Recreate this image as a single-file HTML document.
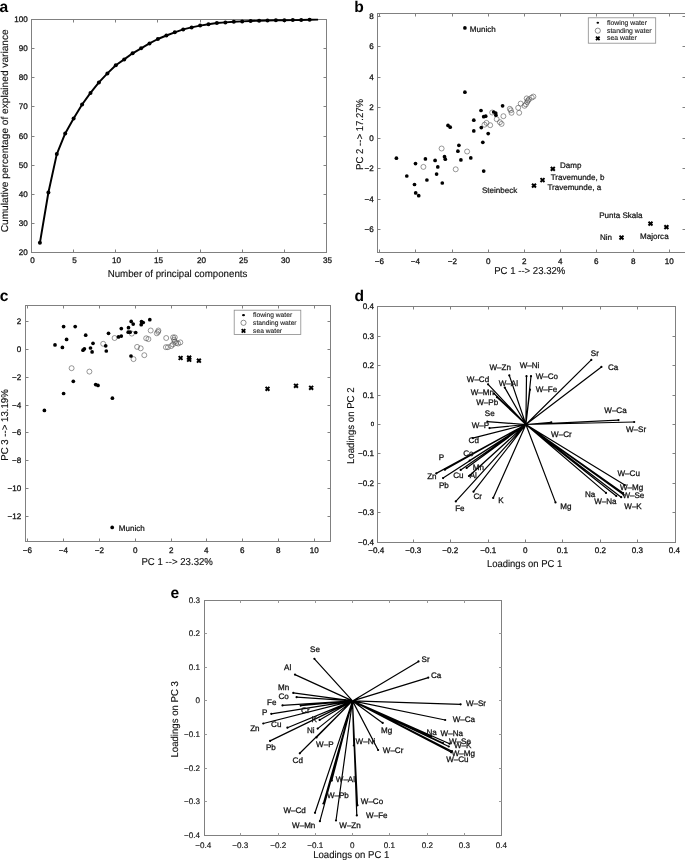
<!DOCTYPE html>
<html><head><meta charset="utf-8"><title>PCA figure</title>
<style>
html,body{margin:0;padding:0;background:#fff;}
body{width:685px;height:860px;overflow:hidden;}
svg{display:block;will-change:transform;font-family:"Liberation Sans",sans-serif;text-rendering:geometricPrecision;}
</style></head><body>
<svg width="685" height="860" viewBox="0 0 685 860">
<rect x="0" y="0" width="685" height="860" fill="#fff"/>
<g>
<rect x="31.50" y="19.50" width="295.00" height="233.00" fill="none" stroke="#808080" stroke-width="1"/>
<text x="32.50" y="262.72" font-size="8.1" text-anchor="middle" font-weight="normal" fill="#111" stroke="#111" stroke-width="0.28">0</text>
<text x="74.50" y="262.72" font-size="8.1" text-anchor="middle" font-weight="normal" fill="#111" stroke="#111" stroke-width="0.28">5</text>
<text x="116.50" y="262.72" font-size="8.1" text-anchor="middle" font-weight="normal" fill="#111" stroke="#111" stroke-width="0.28">10</text>
<text x="158.50" y="262.72" font-size="8.1" text-anchor="middle" font-weight="normal" fill="#111" stroke="#111" stroke-width="0.28">15</text>
<text x="201.50" y="262.72" font-size="8.1" text-anchor="middle" font-weight="normal" fill="#111" stroke="#111" stroke-width="0.28">20</text>
<text x="243.50" y="262.72" font-size="8.1" text-anchor="middle" font-weight="normal" fill="#111" stroke="#111" stroke-width="0.28">25</text>
<text x="285.50" y="262.72" font-size="8.1" text-anchor="middle" font-weight="normal" fill="#111" stroke="#111" stroke-width="0.28">30</text>
<text x="327.50" y="262.72" font-size="8.1" text-anchor="middle" font-weight="normal" fill="#111" stroke="#111" stroke-width="0.28">35</text>
<text x="27.80" y="254.92" font-size="8.1" text-anchor="end" font-weight="normal" fill="#111" stroke="#111" stroke-width="0.28">20</text>
<text x="27.80" y="225.92" font-size="8.1" text-anchor="end" font-weight="normal" fill="#111" stroke="#111" stroke-width="0.28">30</text>
<text x="27.80" y="196.92" font-size="8.1" text-anchor="end" font-weight="normal" fill="#111" stroke="#111" stroke-width="0.28">40</text>
<text x="27.80" y="167.92" font-size="8.1" text-anchor="end" font-weight="normal" fill="#111" stroke="#111" stroke-width="0.28">50</text>
<text x="27.80" y="138.92" font-size="8.1" text-anchor="end" font-weight="normal" fill="#111" stroke="#111" stroke-width="0.28">60</text>
<text x="27.80" y="108.92" font-size="8.1" text-anchor="end" font-weight="normal" fill="#111" stroke="#111" stroke-width="0.28">70</text>
<text x="27.80" y="79.92" font-size="8.1" text-anchor="end" font-weight="normal" fill="#111" stroke="#111" stroke-width="0.28">80</text>
<text x="27.80" y="50.92" font-size="8.1" text-anchor="end" font-weight="normal" fill="#111" stroke="#111" stroke-width="0.28">90</text>
<text x="27.80" y="21.92" font-size="8.1" text-anchor="end" font-weight="normal" fill="#111" stroke="#111" stroke-width="0.28">100</text>
<path d="M73.50 252.50v-3.0M73.50 19.50v3.0M115.50 252.50v-3.0M115.50 19.50v3.0M157.50 252.50v-3.0M157.50 19.50v3.0M200.50 252.50v-3.0M200.50 19.50v3.0M242.50 252.50v-3.0M242.50 19.50v3.0M284.50 252.50v-3.0M284.50 19.50v3.0M31.50 223.50h3.0M326.50 223.50h-3.0M31.50 194.50h3.0M326.50 194.50h-3.0M31.50 165.50h3.0M326.50 165.50h-3.0M31.50 136.50h3.0M326.50 136.50h-3.0M31.50 106.50h3.0M326.50 106.50h-3.0M31.50 77.50h3.0M326.50 77.50h-3.0M31.50 48.50h3.0M326.50 48.50h-3.0" stroke="#808080" stroke-width="1" fill="none"/>
<text x="177.50" y="277.10" font-size="10" text-anchor="middle" font-weight="normal" fill="#111" textLength="139.7" lengthAdjust="spacingAndGlyphs" stroke="#111" stroke-width="0.14">Number of principal components</text>
<text x="4.70" y="133.90" font-size="10" text-anchor="middle" font-weight="normal" fill="#111" transform="rotate(-90 4.70 130.80)" textLength="203" lengthAdjust="spacingAndGlyphs" stroke="#111" stroke-width="0.14">Cumulative percentage of explained variance</text>
<polyline points="39.9,242.8 48.4,192.5 56.8,154.1 65.2,133.4 73.6,118.5 82.1,104.5 90.5,92.9 98.9,82.4 107.4,73.4 115.8,65.2 124.2,59.4 132.6,53.3 141.1,48.3 149.5,43.4 157.9,39.0 166.4,35.5 174.8,32.3 183.2,29.4 191.6,27.4 200.1,25.6 208.5,24.2 216.9,23.0 225.4,22.4 233.8,21.8 242.2,21.4 250.6,21.0 259.1,20.7 267.5,20.5 275.9,20.3 284.4,20.2 292.8,20.1 301.2,20.0 309.6,19.8 318.1,19.6" fill="none" stroke="#000" stroke-width="1.95" stroke-linejoin="round"/>
<circle cx="39.9" cy="242.8" r="2.0" fill="#000"/>
<circle cx="48.4" cy="192.5" r="2.0" fill="#000"/>
<circle cx="56.8" cy="154.1" r="2.0" fill="#000"/>
<circle cx="65.2" cy="133.4" r="2.0" fill="#000"/>
<circle cx="73.6" cy="118.5" r="2.0" fill="#000"/>
<circle cx="82.1" cy="104.5" r="2.0" fill="#000"/>
<circle cx="90.5" cy="92.9" r="2.0" fill="#000"/>
<circle cx="98.9" cy="82.4" r="2.0" fill="#000"/>
<circle cx="107.4" cy="73.4" r="2.0" fill="#000"/>
<circle cx="115.8" cy="65.2" r="2.0" fill="#000"/>
<circle cx="124.2" cy="59.4" r="2.0" fill="#000"/>
<circle cx="132.6" cy="53.3" r="2.0" fill="#000"/>
<circle cx="141.1" cy="48.3" r="2.0" fill="#000"/>
<circle cx="149.5" cy="43.4" r="2.0" fill="#000"/>
<circle cx="157.9" cy="39.0" r="2.0" fill="#000"/>
<circle cx="166.4" cy="35.5" r="2.0" fill="#000"/>
<circle cx="174.8" cy="32.3" r="2.0" fill="#000"/>
<circle cx="183.2" cy="29.4" r="2.0" fill="#000"/>
<circle cx="191.6" cy="27.4" r="2.0" fill="#000"/>
<circle cx="200.1" cy="25.6" r="2.0" fill="#000"/>
<circle cx="208.5" cy="24.2" r="2.0" fill="#000"/>
<circle cx="216.9" cy="23.0" r="2.0" fill="#000"/>
<circle cx="225.4" cy="22.4" r="2.0" fill="#000"/>
<circle cx="233.8" cy="21.8" r="2.0" fill="#000"/>
<circle cx="242.2" cy="21.4" r="2.0" fill="#000"/>
<circle cx="250.6" cy="21.0" r="2.0" fill="#000"/>
<circle cx="259.1" cy="20.7" r="2.0" fill="#000"/>
<circle cx="267.5" cy="20.5" r="2.0" fill="#000"/>
<circle cx="275.9" cy="20.3" r="2.0" fill="#000"/>
<circle cx="284.4" cy="20.2" r="2.0" fill="#000"/>
<circle cx="292.8" cy="20.1" r="2.0" fill="#000"/>
<circle cx="301.2" cy="20.0" r="2.0" fill="#000"/>
<circle cx="309.6" cy="19.8" r="2.0" fill="#000"/>
<text x="-0.60" y="12.00" font-size="15.6" font-weight="bold" fill="#000">a</text>
<rect x="377.50" y="13.50" width="308.00" height="239.00" fill="none" stroke="#808080" stroke-width="1"/>
<text x="379.30" y="263.82" font-size="8.1" text-anchor="middle" font-weight="normal" fill="#111" stroke="#111" stroke-width="0.28">−6</text>
<text x="415.30" y="263.82" font-size="8.1" text-anchor="middle" font-weight="normal" fill="#111" stroke="#111" stroke-width="0.28">−4</text>
<text x="452.30" y="263.82" font-size="8.1" text-anchor="middle" font-weight="normal" fill="#111" stroke="#111" stroke-width="0.28">−2</text>
<text x="488.30" y="263.82" font-size="8.1" text-anchor="middle" font-weight="normal" fill="#111" stroke="#111" stroke-width="0.28">0</text>
<text x="524.30" y="263.82" font-size="8.1" text-anchor="middle" font-weight="normal" fill="#111" stroke="#111" stroke-width="0.28">2</text>
<text x="560.30" y="263.82" font-size="8.1" text-anchor="middle" font-weight="normal" fill="#111" stroke="#111" stroke-width="0.28">4</text>
<text x="596.30" y="263.82" font-size="8.1" text-anchor="middle" font-weight="normal" fill="#111" stroke="#111" stroke-width="0.28">6</text>
<text x="633.30" y="263.82" font-size="8.1" text-anchor="middle" font-weight="normal" fill="#111" stroke="#111" stroke-width="0.28">8</text>
<text x="669.30" y="263.82" font-size="8.1" text-anchor="middle" font-weight="normal" fill="#111" stroke="#111" stroke-width="0.28">10</text>
<text x="373.70" y="231.92" font-size="8.1" text-anchor="end" font-weight="normal" fill="#111" stroke="#111" stroke-width="0.28">−6</text>
<text x="373.70" y="201.92" font-size="8.1" text-anchor="end" font-weight="normal" fill="#111" stroke="#111" stroke-width="0.28">−4</text>
<text x="373.70" y="170.92" font-size="8.1" text-anchor="end" font-weight="normal" fill="#111" stroke="#111" stroke-width="0.28">−2</text>
<text x="373.70" y="140.92" font-size="8.1" text-anchor="end" font-weight="normal" fill="#111" stroke="#111" stroke-width="0.28">0</text>
<text x="373.70" y="109.92" font-size="8.1" text-anchor="end" font-weight="normal" fill="#111" stroke="#111" stroke-width="0.28">2</text>
<text x="373.70" y="79.92" font-size="8.1" text-anchor="end" font-weight="normal" fill="#111" stroke="#111" stroke-width="0.28">4</text>
<text x="373.70" y="48.92" font-size="8.1" text-anchor="end" font-weight="normal" fill="#111" stroke="#111" stroke-width="0.28">6</text>
<text x="373.70" y="18.92" font-size="8.1" text-anchor="end" font-weight="normal" fill="#111" stroke="#111" stroke-width="0.28">8</text>
<path d="M379.50 252.50v-3.0M379.50 13.50v3.0M415.50 252.50v-3.0M415.50 13.50v3.0M452.50 252.50v-3.0M452.50 13.50v3.0M488.50 252.50v-3.0M488.50 13.50v3.0M524.50 252.50v-3.0M524.50 13.50v3.0M560.50 252.50v-3.0M560.50 13.50v3.0M596.50 252.50v-3.0M596.50 13.50v3.0M633.50 252.50v-3.0M633.50 13.50v3.0M669.50 252.50v-3.0M669.50 13.50v3.0M377.50 229.50h3.0M685.50 229.50h-3.0M377.50 199.50h3.0M685.50 199.50h-3.0M377.50 168.50h3.0M685.50 168.50h-3.0M377.50 138.50h3.0M685.50 138.50h-3.0M377.50 107.50h3.0M685.50 107.50h-3.0M377.50 77.50h3.0M685.50 77.50h-3.0M377.50 46.50h3.0M685.50 46.50h-3.0M377.50 16.50h3.0M685.50 16.50h-3.0" stroke="#808080" stroke-width="1" fill="none"/>
<text x="529.80" y="273.90" font-size="10" text-anchor="middle" font-weight="normal" fill="#111" textLength="71.2" lengthAdjust="spacingAndGlyphs" stroke="#111" stroke-width="0.14">PC 1 --&gt; 23.32%</text>
<text x="360.00" y="137.50" font-size="10" text-anchor="middle" font-weight="normal" fill="#111" transform="rotate(-90 360.00 134.40)" textLength="71.0" lengthAdjust="spacingAndGlyphs" stroke="#111" stroke-width="0.14">PC 2 --&gt; 17.27%</text>
<circle cx="423.4" cy="166.9" r="2.5" fill="none" stroke="#444" stroke-width="0.55"/>
<circle cx="441.6" cy="148.5" r="2.5" fill="none" stroke="#444" stroke-width="0.55"/>
<circle cx="455.7" cy="169.3" r="2.5" fill="none" stroke="#444" stroke-width="0.55"/>
<circle cx="467.1" cy="151.5" r="2.5" fill="none" stroke="#444" stroke-width="0.55"/>
<circle cx="484.5" cy="124.7" r="2.5" fill="none" stroke="#444" stroke-width="0.55"/>
<circle cx="486.5" cy="122.9" r="2.5" fill="none" stroke="#444" stroke-width="0.55"/>
<circle cx="490.2" cy="125.2" r="2.5" fill="none" stroke="#444" stroke-width="0.55"/>
<circle cx="492.2" cy="112.5" r="2.5" fill="none" stroke="#444" stroke-width="0.55"/>
<circle cx="496.7" cy="119.2" r="2.5" fill="none" stroke="#444" stroke-width="0.55"/>
<circle cx="499.9" cy="122.2" r="2.5" fill="none" stroke="#444" stroke-width="0.55"/>
<circle cx="501.6" cy="123.9" r="2.5" fill="none" stroke="#444" stroke-width="0.55"/>
<circle cx="503.4" cy="116.2" r="2.5" fill="none" stroke="#444" stroke-width="0.55"/>
<circle cx="509.8" cy="108.8" r="2.5" fill="none" stroke="#444" stroke-width="0.55"/>
<circle cx="510.8" cy="110.3" r="2.5" fill="none" stroke="#444" stroke-width="0.55"/>
<circle cx="511.5" cy="112.8" r="2.5" fill="none" stroke="#444" stroke-width="0.55"/>
<circle cx="518.2" cy="107.8" r="2.5" fill="none" stroke="#444" stroke-width="0.55"/>
<circle cx="519.2" cy="112.8" r="2.5" fill="none" stroke="#444" stroke-width="0.55"/>
<circle cx="520.7" cy="103.6" r="2.5" fill="none" stroke="#444" stroke-width="0.55"/>
<circle cx="524.5" cy="105.8" r="2.5" fill="none" stroke="#444" stroke-width="0.55"/>
<circle cx="525.9" cy="104.3" r="2.5" fill="none" stroke="#444" stroke-width="0.55"/>
<circle cx="526.7" cy="98.4" r="2.5" fill="none" stroke="#444" stroke-width="0.55"/>
<circle cx="527.2" cy="102.1" r="2.5" fill="none" stroke="#444" stroke-width="0.55"/>
<circle cx="527.9" cy="100.6" r="2.5" fill="none" stroke="#444" stroke-width="0.55"/>
<circle cx="528.9" cy="99.4" r="2.5" fill="none" stroke="#444" stroke-width="0.55"/>
<circle cx="531.7" cy="97.6" r="2.5" fill="none" stroke="#444" stroke-width="0.55"/>
<circle cx="533.4" cy="96.6" r="2.5" fill="none" stroke="#444" stroke-width="0.55"/>
<circle cx="464.9" cy="27.9" r="1.85" fill="#000"/>
<circle cx="464.9" cy="92.2" r="1.85" fill="#000"/>
<circle cx="396.4" cy="158.2" r="1.85" fill="#000"/>
<circle cx="406.8" cy="176.0" r="1.85" fill="#000"/>
<circle cx="415.5" cy="163.6" r="1.85" fill="#000"/>
<circle cx="414.5" cy="184.5" r="1.85" fill="#000"/>
<circle cx="415.7" cy="192.9" r="1.85" fill="#000"/>
<circle cx="418.7" cy="195.7" r="1.85" fill="#000"/>
<circle cx="425.4" cy="158.9" r="1.85" fill="#000"/>
<circle cx="426.9" cy="180.0" r="1.85" fill="#000"/>
<circle cx="435.1" cy="160.4" r="1.85" fill="#000"/>
<circle cx="437.8" cy="166.9" r="1.85" fill="#000"/>
<circle cx="436.6" cy="174.1" r="1.85" fill="#000"/>
<circle cx="442.3" cy="183.0" r="1.85" fill="#000"/>
<circle cx="444.5" cy="156.7" r="1.85" fill="#000"/>
<circle cx="445.3" cy="159.2" r="1.85" fill="#000"/>
<circle cx="448.0" cy="125.4" r="1.85" fill="#000"/>
<circle cx="450.2" cy="127.2" r="1.85" fill="#000"/>
<circle cx="458.9" cy="145.3" r="1.85" fill="#000"/>
<circle cx="457.9" cy="151.2" r="1.85" fill="#000"/>
<circle cx="460.9" cy="159.9" r="1.85" fill="#000"/>
<circle cx="470.8" cy="157.9" r="1.85" fill="#000"/>
<circle cx="473.8" cy="120.2" r="1.85" fill="#000"/>
<circle cx="473.8" cy="130.9" r="1.85" fill="#000"/>
<circle cx="481.0" cy="110.5" r="1.85" fill="#000"/>
<circle cx="481.3" cy="127.6" r="1.85" fill="#000"/>
<circle cx="482.8" cy="142.3" r="1.85" fill="#000"/>
<circle cx="483.7" cy="171.1" r="1.85" fill="#000"/>
<circle cx="483.7" cy="116.7" r="1.85" fill="#000"/>
<circle cx="485.7" cy="116.2" r="1.85" fill="#000"/>
<circle cx="488.2" cy="133.6" r="1.85" fill="#000"/>
<circle cx="493.7" cy="112.0" r="1.85" fill="#000"/>
<circle cx="495.7" cy="113.0" r="1.85" fill="#000"/>
<circle cx="495.9" cy="115.2" r="1.85" fill="#000"/>
<circle cx="502.6" cy="105.8" r="1.85" fill="#000"/>
<path d="M532.0 183.7L536.0 187.5M532.0 187.5L536.0 183.7M540.5 178.1L544.5 181.9M540.5 181.9L544.5 178.1M550.8 167.0L554.8 170.8M550.8 170.8L554.8 167.0M619.5 235.6L623.5 239.4M619.5 239.4L623.5 235.6M648.5 221.7L652.5 225.5M648.5 225.5L652.5 221.7M664.4 225.2L668.4 229.0M664.4 229.0L668.4 225.2" stroke="#000" stroke-width="2.0" fill="none"/>
<text x="469.80" y="32.40" font-size="8.05" text-anchor="start" font-weight="normal" fill="#111" stroke="#111" stroke-width="0.22">Munich</text>
<text x="482.00" y="193.30" font-size="8.05" text-anchor="start" font-weight="normal" fill="#111" stroke="#111" stroke-width="0.22">Steinbeck</text>
<text x="559.90" y="167.90" font-size="8.05" text-anchor="start" font-weight="normal" fill="#111" stroke="#111" stroke-width="0.22">Damp</text>
<text x="550.70" y="180.00" font-size="8.05" text-anchor="start" font-weight="normal" fill="#111" stroke="#111" stroke-width="0.22">Travemunde, b</text>
<text x="547.40" y="190.20" font-size="8.05" text-anchor="start" font-weight="normal" fill="#111" stroke="#111" stroke-width="0.22">Travemunde, a</text>
<text x="599.20" y="218.00" font-size="8.05" text-anchor="start" font-weight="normal" fill="#111" stroke="#111" stroke-width="0.22">Punta Skala</text>
<text x="599.90" y="240.00" font-size="8.05" text-anchor="start" font-weight="normal" fill="#111" stroke="#111" stroke-width="0.22">Nin</text>
<text x="640.00" y="239.20" font-size="8.05" text-anchor="start" font-weight="normal" fill="#111" stroke="#111" stroke-width="0.22">Majorca</text>
<rect x="588.3" y="17.8" width="67.4" height="25.4" fill="#fff" stroke="#8a8a8a" stroke-width="0.8"/>
<ellipse cx="597.8" cy="22.8" rx="1.3" ry="1.0" fill="#000"/>
<circle cx="597.8" cy="30.7" r="2.6" fill="none" stroke="#444" stroke-width="0.6"/>
<path d="M596.0 36.6L599.6 40.2M596.0 40.2L599.6 36.6" stroke="#000" stroke-width="1.8" fill="none"/>
<text x="607.00" y="24.77" font-size="6.85" text-anchor="start" font-weight="400" fill="#222" stroke="#222" stroke-width="0.12">flowing water</text>
<text x="607.00" y="32.67" font-size="6.85" text-anchor="start" font-weight="400" fill="#222" stroke="#222" stroke-width="0.12">standing water</text>
<text x="607.00" y="40.37" font-size="6.85" text-anchor="start" font-weight="400" fill="#222" stroke="#222" stroke-width="0.12">sea water</text>
<text x="354.20" y="12.30" font-size="15.6" font-weight="bold" fill="#000">b</text>
<rect x="25.50" y="305.50" width="305.00" height="236.00" fill="none" stroke="#808080" stroke-width="1"/>
<text x="27.30" y="553.02" font-size="8.1" text-anchor="middle" font-weight="normal" fill="#111" stroke="#111" stroke-width="0.28">−6</text>
<text x="63.30" y="553.02" font-size="8.1" text-anchor="middle" font-weight="normal" fill="#111" stroke="#111" stroke-width="0.28">−4</text>
<text x="99.30" y="553.02" font-size="8.1" text-anchor="middle" font-weight="normal" fill="#111" stroke="#111" stroke-width="0.28">−2</text>
<text x="135.30" y="553.02" font-size="8.1" text-anchor="middle" font-weight="normal" fill="#111" stroke="#111" stroke-width="0.28">0</text>
<text x="171.30" y="553.02" font-size="8.1" text-anchor="middle" font-weight="normal" fill="#111" stroke="#111" stroke-width="0.28">2</text>
<text x="206.30" y="553.02" font-size="8.1" text-anchor="middle" font-weight="normal" fill="#111" stroke="#111" stroke-width="0.28">4</text>
<text x="242.30" y="553.02" font-size="8.1" text-anchor="middle" font-weight="normal" fill="#111" stroke="#111" stroke-width="0.28">6</text>
<text x="278.30" y="553.02" font-size="8.1" text-anchor="middle" font-weight="normal" fill="#111" stroke="#111" stroke-width="0.28">8</text>
<text x="314.30" y="553.02" font-size="8.1" text-anchor="middle" font-weight="normal" fill="#111" stroke="#111" stroke-width="0.28">10</text>
<text x="21.20" y="518.92" font-size="8.1" text-anchor="end" font-weight="normal" fill="#111" stroke="#111" stroke-width="0.28">−12</text>
<text x="21.20" y="490.92" font-size="8.1" text-anchor="end" font-weight="normal" fill="#111" stroke="#111" stroke-width="0.28">−10</text>
<text x="21.20" y="462.92" font-size="8.1" text-anchor="end" font-weight="normal" fill="#111" stroke="#111" stroke-width="0.28">−8</text>
<text x="21.20" y="434.92" font-size="8.1" text-anchor="end" font-weight="normal" fill="#111" stroke="#111" stroke-width="0.28">−6</text>
<text x="21.20" y="407.92" font-size="8.1" text-anchor="end" font-weight="normal" fill="#111" stroke="#111" stroke-width="0.28">−4</text>
<text x="21.20" y="379.92" font-size="8.1" text-anchor="end" font-weight="normal" fill="#111" stroke="#111" stroke-width="0.28">−2</text>
<text x="21.20" y="351.92" font-size="8.1" text-anchor="end" font-weight="normal" fill="#111" stroke="#111" stroke-width="0.28">0</text>
<text x="21.20" y="323.92" font-size="8.1" text-anchor="end" font-weight="normal" fill="#111" stroke="#111" stroke-width="0.28">2</text>
<path d="M27.50 541.50v-3.0M27.50 305.50v3.0M63.50 541.50v-3.0M63.50 305.50v3.0M99.50 541.50v-3.0M99.50 305.50v3.0M135.50 541.50v-3.0M135.50 305.50v3.0M171.50 541.50v-3.0M171.50 305.50v3.0M206.50 541.50v-3.0M206.50 305.50v3.0M242.50 541.50v-3.0M242.50 305.50v3.0M278.50 541.50v-3.0M278.50 305.50v3.0M314.50 541.50v-3.0M314.50 305.50v3.0M25.50 516.50h3.0M330.50 516.50h-3.0M25.50 488.50h3.0M330.50 488.50h-3.0M25.50 460.50h3.0M330.50 460.50h-3.0M25.50 432.50h3.0M330.50 432.50h-3.0M25.50 405.50h3.0M330.50 405.50h-3.0M25.50 377.50h3.0M330.50 377.50h-3.0M25.50 349.50h3.0M330.50 349.50h-3.0M25.50 321.50h3.0M330.50 321.50h-3.0" stroke="#808080" stroke-width="1" fill="none"/>
<text x="177.20" y="565.00" font-size="10" text-anchor="middle" font-weight="normal" fill="#111" textLength="71.5" lengthAdjust="spacingAndGlyphs" stroke="#111" stroke-width="0.14">PC 1 --&gt; 23.32%</text>
<text x="4.80" y="428.10" font-size="10" text-anchor="middle" font-weight="normal" fill="#111" transform="rotate(-90 4.80 425.00)" textLength="71.6" lengthAdjust="spacingAndGlyphs" stroke="#111" stroke-width="0.14">PC 3 --&gt; 13.19%</text>
<circle cx="71.6" cy="368.2" r="2.5" fill="none" stroke="#444" stroke-width="0.55"/>
<circle cx="89.4" cy="371.6" r="2.5" fill="none" stroke="#444" stroke-width="0.55"/>
<circle cx="103.2" cy="343.8" r="2.5" fill="none" stroke="#444" stroke-width="0.55"/>
<circle cx="114.6" cy="338.0" r="2.5" fill="none" stroke="#444" stroke-width="0.55"/>
<circle cx="131.8" cy="333.6" r="2.5" fill="none" stroke="#444" stroke-width="0.55"/>
<circle cx="133.5" cy="359.1" r="2.5" fill="none" stroke="#444" stroke-width="0.55"/>
<circle cx="137.1" cy="346.9" r="2.5" fill="none" stroke="#444" stroke-width="0.55"/>
<circle cx="140.7" cy="348.3" r="2.5" fill="none" stroke="#444" stroke-width="0.55"/>
<circle cx="144.3" cy="355.2" r="2.5" fill="none" stroke="#444" stroke-width="0.55"/>
<circle cx="146.2" cy="338.3" r="2.5" fill="none" stroke="#444" stroke-width="0.55"/>
<circle cx="148.4" cy="339.1" r="2.5" fill="none" stroke="#444" stroke-width="0.55"/>
<circle cx="150.7" cy="330.5" r="2.5" fill="none" stroke="#444" stroke-width="0.55"/>
<circle cx="156.8" cy="333.3" r="2.5" fill="none" stroke="#444" stroke-width="0.55"/>
<circle cx="158.1" cy="331.9" r="2.5" fill="none" stroke="#444" stroke-width="0.55"/>
<circle cx="158.4" cy="330.5" r="2.5" fill="none" stroke="#444" stroke-width="0.55"/>
<circle cx="166.2" cy="338.0" r="2.5" fill="none" stroke="#444" stroke-width="0.55"/>
<circle cx="165.9" cy="347.2" r="2.5" fill="none" stroke="#444" stroke-width="0.55"/>
<circle cx="167.9" cy="347.2" r="2.5" fill="none" stroke="#444" stroke-width="0.55"/>
<circle cx="171.2" cy="346.0" r="2.5" fill="none" stroke="#444" stroke-width="0.55"/>
<circle cx="172.9" cy="344.4" r="2.5" fill="none" stroke="#444" stroke-width="0.55"/>
<circle cx="173.1" cy="337.4" r="2.5" fill="none" stroke="#444" stroke-width="0.55"/>
<circle cx="174.8" cy="337.4" r="2.5" fill="none" stroke="#444" stroke-width="0.55"/>
<circle cx="174.0" cy="339.7" r="2.5" fill="none" stroke="#444" stroke-width="0.55"/>
<circle cx="174.8" cy="341.6" r="2.5" fill="none" stroke="#444" stroke-width="0.55"/>
<circle cx="176.2" cy="343.0" r="2.5" fill="none" stroke="#444" stroke-width="0.55"/>
<circle cx="178.1" cy="343.5" r="2.5" fill="none" stroke="#444" stroke-width="0.55"/>
<circle cx="180.3" cy="342.4" r="2.5" fill="none" stroke="#444" stroke-width="0.55"/>
<circle cx="44.4" cy="410.4" r="1.85" fill="#000"/>
<circle cx="55.0" cy="344.9" r="1.85" fill="#000"/>
<circle cx="62.4" cy="347.4" r="1.85" fill="#000"/>
<circle cx="63.6" cy="326.6" r="1.85" fill="#000"/>
<circle cx="66.6" cy="339.4" r="1.85" fill="#000"/>
<circle cx="63.6" cy="393.5" r="1.85" fill="#000"/>
<circle cx="75.2" cy="326.6" r="1.85" fill="#000"/>
<circle cx="73.3" cy="381.3" r="1.85" fill="#000"/>
<circle cx="85.7" cy="335.2" r="1.85" fill="#000"/>
<circle cx="83.0" cy="350.2" r="1.85" fill="#000"/>
<circle cx="84.4" cy="348.8" r="1.85" fill="#000"/>
<circle cx="90.5" cy="348.0" r="1.85" fill="#000"/>
<circle cx="93.0" cy="343.3" r="1.85" fill="#000"/>
<circle cx="92.1" cy="351.9" r="1.85" fill="#000"/>
<circle cx="95.7" cy="384.6" r="1.85" fill="#000"/>
<circle cx="98.0" cy="385.4" r="1.85" fill="#000"/>
<circle cx="105.7" cy="345.8" r="1.85" fill="#000"/>
<circle cx="106.3" cy="351.0" r="1.85" fill="#000"/>
<circle cx="108.5" cy="333.3" r="1.85" fill="#000"/>
<circle cx="112.4" cy="398.2" r="1.85" fill="#000"/>
<circle cx="118.5" cy="336.9" r="1.85" fill="#000"/>
<circle cx="121.3" cy="336.1" r="1.85" fill="#000"/>
<circle cx="121.3" cy="328.6" r="1.85" fill="#000"/>
<circle cx="128.5" cy="327.7" r="1.85" fill="#000"/>
<circle cx="128.2" cy="332.2" r="1.85" fill="#000"/>
<circle cx="130.1" cy="332.2" r="1.85" fill="#000"/>
<circle cx="131.2" cy="321.4" r="1.85" fill="#000"/>
<circle cx="133.2" cy="324.1" r="1.85" fill="#000"/>
<circle cx="131.0" cy="356.0" r="1.85" fill="#000"/>
<circle cx="135.7" cy="332.5" r="1.85" fill="#000"/>
<circle cx="141.5" cy="321.6" r="1.85" fill="#000"/>
<circle cx="141.2" cy="324.7" r="1.85" fill="#000"/>
<circle cx="143.2" cy="322.5" r="1.85" fill="#000"/>
<circle cx="149.8" cy="319.7" r="1.85" fill="#000"/>
<circle cx="112.2" cy="527.4" r="1.85" fill="#000"/>
<path d="M178.7 356.1L182.5 359.9M178.7 359.9L182.5 356.1M187.2 355.8L191.1 359.6M187.2 359.6L191.1 355.8M187.2 357.7L191.1 361.6M187.2 361.6L191.1 357.7M197.0 358.8L200.8 362.6M197.0 362.6L200.8 358.8M265.6 386.9L269.4 390.8M265.6 390.8L269.4 386.9M294.1 383.9L297.9 387.8M294.1 387.8L297.9 383.9M309.2 385.9L313.1 389.8M309.2 389.8L313.1 385.9" stroke="#000" stroke-width="2.0" fill="none"/>
<text x="118.80" y="531.30" font-size="8.05" text-anchor="start" font-weight="normal" fill="#111" stroke="#111" stroke-width="0.22">Munich</text>
<rect x="234.2" y="310.2" width="66.6" height="24.3" fill="#fff" stroke="#8a8a8a" stroke-width="0.8"/>
<ellipse cx="243.5" cy="315.2" rx="1.5" ry="1.15" fill="#000"/>
<circle cx="243.5" cy="322.8" r="2.6" fill="none" stroke="#444" stroke-width="0.6"/>
<path d="M241.7 329.1L245.3 332.7M241.7 332.7L245.3 329.1" stroke="#000" stroke-width="1.8" fill="none"/>
<text x="253.10" y="317.11" font-size="6.7" text-anchor="start" font-weight="400" fill="#222" stroke="#222" stroke-width="0.12">flowing water</text>
<text x="253.10" y="324.71" font-size="6.7" text-anchor="start" font-weight="400" fill="#222" stroke="#222" stroke-width="0.12">standing water</text>
<text x="253.10" y="332.81" font-size="6.7" text-anchor="start" font-weight="400" fill="#222" stroke="#222" stroke-width="0.12">sea water</text>
<text x="-0.20" y="300.80" font-size="15.6" font-weight="bold" fill="#000">c</text>
<rect x="377.50" y="306.50" width="298.00" height="236.00" fill="none" stroke="#808080" stroke-width="1"/>
<text x="376.30" y="552.82" font-size="8.1" text-anchor="middle" font-weight="normal" fill="#111" stroke="#111" stroke-width="0.28">−0.4</text>
<text x="413.30" y="552.82" font-size="8.1" text-anchor="middle" font-weight="normal" fill="#111" stroke="#111" stroke-width="0.28">−0.3</text>
<text x="450.30" y="552.82" font-size="8.1" text-anchor="middle" font-weight="normal" fill="#111" stroke="#111" stroke-width="0.28">−0.2</text>
<text x="488.30" y="552.82" font-size="8.1" text-anchor="middle" font-weight="normal" fill="#111" stroke="#111" stroke-width="0.28">−0.1</text>
<text x="525.30" y="552.82" font-size="8.1" text-anchor="middle" font-weight="normal" fill="#111" stroke="#111" stroke-width="0.28">0</text>
<text x="562.30" y="552.82" font-size="8.1" text-anchor="middle" font-weight="normal" fill="#111" stroke="#111" stroke-width="0.28">0.1</text>
<text x="600.30" y="552.82" font-size="8.1" text-anchor="middle" font-weight="normal" fill="#111" stroke="#111" stroke-width="0.28">0.2</text>
<text x="637.30" y="552.82" font-size="8.1" text-anchor="middle" font-weight="normal" fill="#111" stroke="#111" stroke-width="0.28">0.3</text>
<text x="674.30" y="552.82" font-size="8.1" text-anchor="middle" font-weight="normal" fill="#111" stroke="#111" stroke-width="0.28">0.4</text>
<text x="374.00" y="544.92" font-size="8.1" text-anchor="end" font-weight="normal" fill="#111" stroke="#111" stroke-width="0.28">−0.4</text>
<text x="374.00" y="514.92" font-size="8.1" text-anchor="end" font-weight="normal" fill="#111" stroke="#111" stroke-width="0.28">−0.3</text>
<text x="374.00" y="485.92" font-size="8.1" text-anchor="end" font-weight="normal" fill="#111" stroke="#111" stroke-width="0.28">−0.2</text>
<text x="374.00" y="455.92" font-size="8.1" text-anchor="end" font-weight="normal" fill="#111" stroke="#111" stroke-width="0.28">−0.1</text>
<text x="374.00" y="426.16" font-size="6.0" text-anchor="end" font-weight="normal" fill="#111" stroke="#111" stroke-width="0.28">0</text>
<text x="374.00" y="397.92" font-size="8.1" text-anchor="end" font-weight="normal" fill="#111" stroke="#111" stroke-width="0.28">0.1</text>
<text x="374.00" y="367.92" font-size="8.1" text-anchor="end" font-weight="normal" fill="#111" stroke="#111" stroke-width="0.28">0.2</text>
<text x="374.00" y="338.92" font-size="8.1" text-anchor="end" font-weight="normal" fill="#111" stroke="#111" stroke-width="0.28">0.3</text>
<text x="374.00" y="308.92" font-size="8.1" text-anchor="end" font-weight="normal" fill="#111" stroke="#111" stroke-width="0.28">0.4</text>
<path d="M413.50 542.50v-3.0M413.50 306.50v3.0M450.50 542.50v-3.0M450.50 306.50v3.0M488.50 542.50v-3.0M488.50 306.50v3.0M525.50 542.50v-3.0M525.50 306.50v3.0M562.50 542.50v-3.0M562.50 306.50v3.0M600.50 542.50v-3.0M600.50 306.50v3.0M637.50 542.50v-3.0M637.50 306.50v3.0M377.50 512.50h3.0M675.50 512.50h-3.0M377.50 483.50h3.0M675.50 483.50h-3.0M377.50 453.50h3.0M675.50 453.50h-3.0M377.50 424.50h3.0M675.50 424.50h-3.0M377.50 395.50h3.0M675.50 395.50h-3.0M377.50 365.50h3.0M675.50 365.50h-3.0M377.50 336.50h3.0M675.50 336.50h-3.0" stroke="#808080" stroke-width="1" fill="none"/>
<text x="524.60" y="567.20" font-size="10" text-anchor="middle" font-weight="normal" fill="#111" textLength="75.4" lengthAdjust="spacingAndGlyphs" stroke="#111" stroke-width="0.14">Loadings on PC 1</text>
<text x="350.70" y="428.80" font-size="10" text-anchor="middle" font-weight="normal" fill="#111" transform="rotate(-90 350.70 425.70)" textLength="76.6" lengthAdjust="spacingAndGlyphs" stroke="#111" stroke-width="0.14">Loadings on PC 2</text>
<path d="M525.9 424.5L509.3 375.4M525.9 424.5L526.5 376.2M525.9 424.5L531.0 376.2M525.9 424.5L530.0 389.7M525.9 424.5L488.1 384.3M525.9 424.5L504.8 387.6M525.9 424.5L494.0 393.5M525.9 424.5L497.0 397.2M525.9 424.5L487.4 421.7M525.9 424.5L489.5 428.1M525.9 424.5L472.7 438.1M525.9 424.5L436.3 473.4M525.9 424.5L444.9 469.7M525.9 424.5L443.1 478.1M525.9 424.5L469.7 460.5M525.9 424.5L460.7 469.9M525.9 424.5L466.6 468.0M525.9 424.5L469.0 476.0M525.9 424.5L470.3 475.0M525.9 424.5L455.8 501.4M525.9 424.5L473.5 491.7M525.9 424.5L493.2 497.9M525.9 424.5L555.5 502.4M525.9 424.5L591.3 359.9M525.9 424.5L601.4 366.9M525.9 424.5L618.5 420.1M525.9 424.5L634.2 422.0M525.9 424.5L551.3 422.3M525.9 424.5L606.0 492.9M525.9 424.5L616.3 496.0M525.9 424.5L624.8 485.1M525.9 424.5L623.1 493.1M525.9 424.5L623.6 494.8M525.9 424.5L621.2 497.2" stroke="#000" stroke-width="1.2" fill="none" stroke-linecap="round"/>
<circle cx="509.3" cy="375.4" r="1.1" fill="#000"/>
<circle cx="526.5" cy="376.2" r="1.1" fill="#000"/>
<circle cx="531.0" cy="376.2" r="1.1" fill="#000"/>
<circle cx="530.0" cy="389.7" r="1.1" fill="#000"/>
<circle cx="488.1" cy="384.3" r="1.1" fill="#000"/>
<circle cx="504.8" cy="387.6" r="1.1" fill="#000"/>
<circle cx="494.0" cy="393.5" r="1.1" fill="#000"/>
<circle cx="497.0" cy="397.2" r="1.1" fill="#000"/>
<circle cx="487.4" cy="421.7" r="1.1" fill="#000"/>
<circle cx="489.5" cy="428.1" r="1.1" fill="#000"/>
<circle cx="472.7" cy="438.1" r="1.1" fill="#000"/>
<circle cx="436.3" cy="473.4" r="1.1" fill="#000"/>
<circle cx="444.9" cy="469.7" r="1.1" fill="#000"/>
<circle cx="443.1" cy="478.1" r="1.1" fill="#000"/>
<circle cx="469.7" cy="460.5" r="1.1" fill="#000"/>
<circle cx="460.7" cy="469.9" r="1.1" fill="#000"/>
<circle cx="466.6" cy="468.0" r="1.1" fill="#000"/>
<circle cx="469.0" cy="476.0" r="1.1" fill="#000"/>
<circle cx="470.3" cy="475.0" r="1.1" fill="#000"/>
<circle cx="455.8" cy="501.4" r="1.1" fill="#000"/>
<circle cx="473.5" cy="491.7" r="1.1" fill="#000"/>
<circle cx="493.2" cy="497.9" r="1.1" fill="#000"/>
<circle cx="555.5" cy="502.4" r="1.1" fill="#000"/>
<circle cx="591.3" cy="359.9" r="1.1" fill="#000"/>
<circle cx="601.4" cy="366.9" r="1.1" fill="#000"/>
<circle cx="618.5" cy="420.1" r="1.1" fill="#000"/>
<circle cx="634.2" cy="422.0" r="1.1" fill="#000"/>
<circle cx="551.3" cy="422.3" r="1.1" fill="#000"/>
<circle cx="606.0" cy="492.9" r="1.1" fill="#000"/>
<circle cx="616.3" cy="496.0" r="1.1" fill="#000"/>
<circle cx="624.8" cy="485.1" r="1.1" fill="#000"/>
<circle cx="623.1" cy="493.1" r="1.1" fill="#000"/>
<circle cx="623.6" cy="494.8" r="1.1" fill="#000"/>
<circle cx="621.2" cy="497.2" r="1.1" fill="#000"/>
<text x="489.50" y="369.60" font-size="8.05" text-anchor="start" font-weight="normal" fill="#111" stroke="#111" stroke-width="0.28">W–Zn</text>
<text x="519.70" y="367.50" font-size="8.05" text-anchor="start" font-weight="normal" fill="#111" stroke="#111" stroke-width="0.28">W–Ni</text>
<text x="535.70" y="379.40" font-size="8.05" text-anchor="start" font-weight="normal" fill="#111" stroke="#111" stroke-width="0.28">W–Co</text>
<text x="535.70" y="391.90" font-size="8.05" text-anchor="start" font-weight="normal" fill="#111" stroke="#111" stroke-width="0.28">W–Fe</text>
<text x="466.80" y="381.60" font-size="8.05" text-anchor="start" font-weight="normal" fill="#111" stroke="#111" stroke-width="0.28">W–Cd</text>
<text x="498.70" y="385.50" font-size="8.05" text-anchor="start" font-weight="normal" fill="#111" stroke="#111" stroke-width="0.28">W–Al</text>
<text x="470.70" y="395.30" font-size="8.05" text-anchor="start" font-weight="normal" fill="#111" stroke="#111" stroke-width="0.28">W–Mn</text>
<text x="476.20" y="405.10" font-size="8.05" text-anchor="start" font-weight="normal" fill="#111" stroke="#111" stroke-width="0.28">W–Pb</text>
<text x="484.80" y="415.60" font-size="8.05" text-anchor="start" font-weight="normal" fill="#111" stroke="#111" stroke-width="0.28">Se</text>
<text x="471.70" y="428.20" font-size="8.05" text-anchor="start" font-weight="normal" fill="#111" stroke="#111" stroke-width="0.28">W–P</text>
<text x="468.60" y="443.40" font-size="8.05" text-anchor="start" font-weight="normal" fill="#111" stroke="#111" stroke-width="0.28">Cd</text>
<text x="438.80" y="459.80" font-size="8.05" text-anchor="start" font-weight="normal" fill="#111" stroke="#111" stroke-width="0.28">P</text>
<text x="463.30" y="455.90" font-size="8.05" text-anchor="start" font-weight="normal" fill="#111" stroke="#111" stroke-width="0.28">Co</text>
<text x="427.20" y="478.80" font-size="8.05" text-anchor="start" font-weight="normal" fill="#111" stroke="#111" stroke-width="0.28">Zn</text>
<text x="453.30" y="477.80" font-size="8.05" text-anchor="start" font-weight="normal" fill="#111" stroke="#111" stroke-width="0.28">Cu</text>
<text x="472.70" y="470.00" font-size="8.05" text-anchor="start" font-weight="normal" fill="#111" stroke="#111" stroke-width="0.28">Mn</text>
<text x="469.70" y="477.80" font-size="8.05" text-anchor="start" font-weight="normal" fill="#111" stroke="#111" stroke-width="0.28">Al</text>
<text x="439.00" y="488.40" font-size="8.05" text-anchor="start" font-weight="normal" fill="#111" stroke="#111" stroke-width="0.28">Pb</text>
<text x="473.50" y="499.30" font-size="8.05" text-anchor="start" font-weight="normal" fill="#111" stroke="#111" stroke-width="0.28">Cr</text>
<text x="498.30" y="502.90" font-size="8.05" text-anchor="start" font-weight="normal" fill="#111" stroke="#111" stroke-width="0.28">K</text>
<text x="455.20" y="511.10" font-size="8.05" text-anchor="start" font-weight="normal" fill="#111" stroke="#111" stroke-width="0.28">Fe</text>
<text x="590.80" y="355.50" font-size="8.05" text-anchor="start" font-weight="normal" fill="#111" stroke="#111" stroke-width="0.28">Sr</text>
<text x="607.90" y="370.00" font-size="8.05" text-anchor="start" font-weight="normal" fill="#111" stroke="#111" stroke-width="0.28">Ca</text>
<text x="604.30" y="412.60" font-size="8.05" text-anchor="start" font-weight="normal" fill="#111" stroke="#111" stroke-width="0.28">W–Ca</text>
<text x="626.00" y="431.90" font-size="8.05" text-anchor="start" font-weight="normal" fill="#111" stroke="#111" stroke-width="0.28">W–Sr</text>
<text x="551.10" y="437.40" font-size="8.05" text-anchor="start" font-weight="normal" fill="#111" stroke="#111" stroke-width="0.28">W–Cr</text>
<text x="560.20" y="508.70" font-size="8.05" text-anchor="start" font-weight="normal" fill="#111" stroke="#111" stroke-width="0.28">Mg</text>
<text x="585.00" y="496.70" font-size="8.05" text-anchor="start" font-weight="normal" fill="#111" stroke="#111" stroke-width="0.28">Na</text>
<text x="594.20" y="504.20" font-size="8.05" text-anchor="start" font-weight="normal" fill="#111" stroke="#111" stroke-width="0.28">W–Na</text>
<text x="617.50" y="476.20" font-size="8.05" text-anchor="start" font-weight="normal" fill="#111" stroke="#111" stroke-width="0.28">W–Cu</text>
<text x="620.00" y="489.50" font-size="8.05" text-anchor="start" font-weight="normal" fill="#111" stroke="#111" stroke-width="0.28">W–Mg</text>
<text x="622.40" y="498.10" font-size="8.05" text-anchor="start" font-weight="normal" fill="#111" stroke="#111" stroke-width="0.28">W–Se</text>
<text x="624.30" y="508.70" font-size="8.05" text-anchor="start" font-weight="normal" fill="#111" stroke="#111" stroke-width="0.28">W–K</text>
<text x="354.60" y="300.80" font-size="15.6" font-weight="bold" fill="#000">d</text>
<rect x="204.50" y="600.50" width="297.00" height="235.00" fill="none" stroke="#808080" stroke-width="1"/>
<text x="203.30" y="848.02" font-size="8.1" text-anchor="middle" font-weight="normal" fill="#111" stroke="#111" stroke-width="0.16">−0.4</text>
<text x="240.30" y="848.02" font-size="8.1" text-anchor="middle" font-weight="normal" fill="#111" stroke="#111" stroke-width="0.16">−0.3</text>
<text x="278.30" y="848.02" font-size="8.1" text-anchor="middle" font-weight="normal" fill="#111" stroke="#111" stroke-width="0.16">−0.2</text>
<text x="315.30" y="848.02" font-size="8.1" text-anchor="middle" font-weight="normal" fill="#111" stroke="#111" stroke-width="0.16">−0.1</text>
<text x="352.30" y="848.02" font-size="8.1" text-anchor="middle" font-weight="normal" fill="#111" stroke="#111" stroke-width="0.16">0</text>
<text x="389.30" y="848.02" font-size="8.1" text-anchor="middle" font-weight="normal" fill="#111" stroke="#111" stroke-width="0.16">0.1</text>
<text x="427.30" y="848.02" font-size="8.1" text-anchor="middle" font-weight="normal" fill="#111" stroke="#111" stroke-width="0.16">0.2</text>
<text x="464.30" y="848.02" font-size="8.1" text-anchor="middle" font-weight="normal" fill="#111" stroke="#111" stroke-width="0.16">0.3</text>
<text x="501.30" y="848.02" font-size="8.1" text-anchor="middle" font-weight="normal" fill="#111" stroke="#111" stroke-width="0.16">0.4</text>
<text x="200.00" y="837.92" font-size="8.1" text-anchor="end" font-weight="normal" fill="#111" stroke="#111" stroke-width="0.16">−0.4</text>
<text x="200.00" y="803.92" font-size="8.1" text-anchor="end" font-weight="normal" fill="#111" stroke="#111" stroke-width="0.16">−0.3</text>
<text x="200.00" y="770.92" font-size="8.1" text-anchor="end" font-weight="normal" fill="#111" stroke="#111" stroke-width="0.16">−0.2</text>
<text x="200.00" y="736.92" font-size="8.1" text-anchor="end" font-weight="normal" fill="#111" stroke="#111" stroke-width="0.16">−0.1</text>
<text x="200.00" y="702.92" font-size="8.1" text-anchor="end" font-weight="normal" fill="#111" stroke="#111" stroke-width="0.16">0</text>
<text x="200.00" y="669.92" font-size="8.1" text-anchor="end" font-weight="normal" fill="#111" stroke="#111" stroke-width="0.16">0.1</text>
<text x="200.00" y="635.92" font-size="8.1" text-anchor="end" font-weight="normal" fill="#111" stroke="#111" stroke-width="0.16">0.2</text>
<text x="200.00" y="602.92" font-size="8.1" text-anchor="end" font-weight="normal" fill="#111" stroke="#111" stroke-width="0.16">0.3</text>
<path d="M240.50 835.50v-2.5M240.50 600.50v2.5M278.50 835.50v-2.5M278.50 600.50v2.5M315.50 835.50v-2.5M315.50 600.50v2.5M352.50 835.50v-2.5M352.50 600.50v2.5M389.50 835.50v-2.5M389.50 600.50v2.5M427.50 835.50v-2.5M427.50 600.50v2.5M464.50 835.50v-2.5M464.50 600.50v2.5M204.50 801.50h2.5M501.50 801.50h-2.5M204.50 768.50h2.5M501.50 768.50h-2.5M204.50 734.50h2.5M501.50 734.50h-2.5M204.50 700.50h2.5M501.50 700.50h-2.5M204.50 667.50h2.5M501.50 667.50h-2.5M204.50 633.50h2.5M501.50 633.50h-2.5" stroke="#9a9a9a" stroke-width="1" fill="none"/>
<text x="351.30" y="857.60" font-size="10" text-anchor="middle" font-weight="normal" fill="#111" textLength="76.3" lengthAdjust="spacingAndGlyphs" stroke="#111" stroke-width="0.14">Loadings on PC 1</text>
<text x="175.40" y="722.40" font-size="10" text-anchor="middle" font-weight="normal" fill="#111" transform="rotate(-90 175.40 719.30)" textLength="76.4" lengthAdjust="spacingAndGlyphs" stroke="#111" stroke-width="0.14">Loadings on PC 3</text>
<path d="M352.5 700.9L314.4 658.8M352.5 700.9L295.0 674.6M352.5 700.9L293.3 692.9M352.5 700.9L296.6 697.2M352.5 700.9L282.5 705.4M352.5 700.9L300.7 705.6M352.5 700.9L271.3 713.8M352.5 700.9L263.3 723.5M352.5 700.9L287.4 727.7M352.5 700.9L319.6 719.9M352.5 700.9L317.7 728.6M352.5 700.9L270.1 740.9M352.5 700.9L299.8 753.3M352.5 700.9L316.5 737.4M352.5 700.9L315.0 812.8M352.5 700.9L319.9 821.2M352.5 700.9L323.4 803.5M352.5 700.9L331.8 780.6M352.5 700.9L336.0 820.5M352.5 700.9L353.8 745.5M352.5 700.9L357.5 805.3M352.5 700.9L356.8 815.4M352.5 700.9L378.1 750.0M352.5 700.9L382.7 722.9M352.5 700.9L418.5 661.4M352.5 700.9L428.3 677.6M352.5 700.9L460.6 704.3M352.5 700.9L445.2 720.0M352.5 700.9L431.0 736.7M352.5 700.9L443.0 743.0M352.5 700.9L449.6 743.7M352.5 700.9L448.8 746.5M352.5 700.9L452.0 751.3M352.5 700.9L451.2 752.3" stroke="#000" stroke-width="1.2" fill="none" stroke-linecap="round"/>
<circle cx="314.4" cy="658.8" r="1.1" fill="#000"/>
<circle cx="295.0" cy="674.6" r="1.1" fill="#000"/>
<circle cx="293.3" cy="692.9" r="1.1" fill="#000"/>
<circle cx="296.6" cy="697.2" r="1.1" fill="#000"/>
<circle cx="282.5" cy="705.4" r="1.1" fill="#000"/>
<circle cx="300.7" cy="705.6" r="1.1" fill="#000"/>
<circle cx="271.3" cy="713.8" r="1.1" fill="#000"/>
<circle cx="263.3" cy="723.5" r="1.1" fill="#000"/>
<circle cx="287.4" cy="727.7" r="1.1" fill="#000"/>
<circle cx="319.6" cy="719.9" r="1.1" fill="#000"/>
<circle cx="317.7" cy="728.6" r="1.1" fill="#000"/>
<circle cx="270.1" cy="740.9" r="1.1" fill="#000"/>
<circle cx="299.8" cy="753.3" r="1.1" fill="#000"/>
<circle cx="316.5" cy="737.4" r="1.1" fill="#000"/>
<circle cx="315.0" cy="812.8" r="1.1" fill="#000"/>
<circle cx="319.9" cy="821.2" r="1.1" fill="#000"/>
<circle cx="323.4" cy="803.5" r="1.1" fill="#000"/>
<circle cx="331.8" cy="780.6" r="1.1" fill="#000"/>
<circle cx="336.0" cy="820.5" r="1.1" fill="#000"/>
<circle cx="353.8" cy="745.5" r="1.1" fill="#000"/>
<circle cx="357.5" cy="805.3" r="1.1" fill="#000"/>
<circle cx="356.8" cy="815.4" r="1.1" fill="#000"/>
<circle cx="378.1" cy="750.0" r="1.1" fill="#000"/>
<circle cx="382.7" cy="722.9" r="1.1" fill="#000"/>
<circle cx="418.5" cy="661.4" r="1.1" fill="#000"/>
<circle cx="428.3" cy="677.6" r="1.1" fill="#000"/>
<circle cx="460.6" cy="704.3" r="1.1" fill="#000"/>
<circle cx="445.2" cy="720.0" r="1.1" fill="#000"/>
<circle cx="431.0" cy="736.7" r="1.1" fill="#000"/>
<circle cx="443.0" cy="743.0" r="1.1" fill="#000"/>
<circle cx="449.6" cy="743.7" r="1.1" fill="#000"/>
<circle cx="448.8" cy="746.5" r="1.1" fill="#000"/>
<circle cx="452.0" cy="751.3" r="1.1" fill="#000"/>
<circle cx="451.2" cy="752.3" r="1.1" fill="#000"/>
<text x="310.10" y="652.20" font-size="8.05" text-anchor="start" font-weight="normal" fill="#111" stroke="#111" stroke-width="0.28">Se</text>
<text x="284.10" y="670.40" font-size="8.05" text-anchor="start" font-weight="normal" fill="#111" stroke="#111" stroke-width="0.28">Al</text>
<text x="278.00" y="689.80" font-size="8.05" text-anchor="start" font-weight="normal" fill="#111" stroke="#111" stroke-width="0.28">Mn</text>
<text x="278.40" y="699.40" font-size="8.05" text-anchor="start" font-weight="normal" fill="#111" stroke="#111" stroke-width="0.28">Co</text>
<text x="267.00" y="704.70" font-size="8.05" text-anchor="start" font-weight="normal" fill="#111" stroke="#111" stroke-width="0.28">Fe</text>
<text x="301.10" y="712.50" font-size="8.05" text-anchor="start" font-weight="normal" fill="#111" stroke="#111" stroke-width="0.28">Cr</text>
<text x="262.10" y="715.20" font-size="8.05" text-anchor="start" font-weight="normal" fill="#111" stroke="#111" stroke-width="0.28">P</text>
<text x="271.10" y="726.60" font-size="8.05" text-anchor="start" font-weight="normal" fill="#111" stroke="#111" stroke-width="0.28">Cu</text>
<text x="250.20" y="730.70" font-size="8.05" text-anchor="start" font-weight="normal" fill="#111" stroke="#111" stroke-width="0.28">Zn</text>
<text x="311.50" y="721.90" font-size="8.05" text-anchor="start" font-weight="normal" fill="#111" stroke="#111" stroke-width="0.28">K</text>
<text x="307.00" y="732.50" font-size="8.05" text-anchor="start" font-weight="normal" fill="#111" stroke="#111" stroke-width="0.28">Ni</text>
<text x="265.90" y="749.60" font-size="8.05" text-anchor="start" font-weight="normal" fill="#111" stroke="#111" stroke-width="0.28">Pb</text>
<text x="292.60" y="762.90" font-size="8.05" text-anchor="start" font-weight="normal" fill="#111" stroke="#111" stroke-width="0.28">Cd</text>
<text x="316.10" y="746.80" font-size="8.05" text-anchor="start" font-weight="normal" fill="#111" stroke="#111" stroke-width="0.28">W–P</text>
<text x="355.60" y="744.40" font-size="8.05" text-anchor="start" font-weight="normal" fill="#111" stroke="#111" stroke-width="0.28">W–Ni</text>
<text x="335.80" y="782.30" font-size="8.05" text-anchor="start" font-weight="normal" fill="#111" stroke="#111" stroke-width="0.28">W–Al</text>
<text x="326.90" y="798.40" font-size="8.05" text-anchor="start" font-weight="normal" fill="#111" stroke="#111" stroke-width="0.28">W–Pb</text>
<text x="360.80" y="804.20" font-size="8.05" text-anchor="start" font-weight="normal" fill="#111" stroke="#111" stroke-width="0.28">W–Co</text>
<text x="283.40" y="813.10" font-size="8.05" text-anchor="start" font-weight="normal" fill="#111" stroke="#111" stroke-width="0.28">W–Cd</text>
<text x="366.10" y="817.60" font-size="8.05" text-anchor="start" font-weight="normal" fill="#111" stroke="#111" stroke-width="0.28">W–Fe</text>
<text x="292.10" y="828.30" font-size="8.05" text-anchor="start" font-weight="normal" fill="#111" stroke="#111" stroke-width="0.28">W–Mn</text>
<text x="339.30" y="827.80" font-size="8.05" text-anchor="start" font-weight="normal" fill="#111" stroke="#111" stroke-width="0.28">W–Zn</text>
<text x="421.60" y="662.40" font-size="8.05" text-anchor="start" font-weight="normal" fill="#111" stroke="#111" stroke-width="0.28">Sr</text>
<text x="431.00" y="678.30" font-size="8.05" text-anchor="start" font-weight="normal" fill="#111" stroke="#111" stroke-width="0.28">Ca</text>
<text x="465.90" y="705.50" font-size="8.05" text-anchor="start" font-weight="normal" fill="#111" stroke="#111" stroke-width="0.28">W–Sr</text>
<text x="452.70" y="722.40" font-size="8.05" text-anchor="start" font-weight="normal" fill="#111" stroke="#111" stroke-width="0.28">W–Ca</text>
<text x="381.10" y="732.70" font-size="8.05" text-anchor="start" font-weight="normal" fill="#111" stroke="#111" stroke-width="0.28">Mg</text>
<text x="382.80" y="752.70" font-size="8.05" text-anchor="start" font-weight="normal" fill="#111" stroke="#111" stroke-width="0.28">W–Cr</text>
<text x="426.40" y="735.40" font-size="8.05" text-anchor="start" font-weight="normal" fill="#111" stroke="#111" stroke-width="0.28">Na</text>
<text x="440.60" y="735.80" font-size="8.05" text-anchor="start" font-weight="normal" fill="#111" stroke="#111" stroke-width="0.28">W–Na</text>
<text x="449.00" y="743.60" font-size="8.05" text-anchor="start" font-weight="normal" fill="#111" stroke="#111" stroke-width="0.28">W–Se</text>
<text x="453.90" y="748.40" font-size="8.05" text-anchor="start" font-weight="normal" fill="#111" stroke="#111" stroke-width="0.28">W–K</text>
<text x="451.70" y="755.60" font-size="8.05" text-anchor="start" font-weight="normal" fill="#111" stroke="#111" stroke-width="0.28">W–Mg</text>
<text x="446.20" y="761.90" font-size="8.05" text-anchor="start" font-weight="normal" fill="#111" stroke="#111" stroke-width="0.28">W–Cu</text>
<text x="170.50" y="597.50" font-size="15.6" font-weight="bold" fill="#000">e</text>
</g>
</svg>
</body></html>
